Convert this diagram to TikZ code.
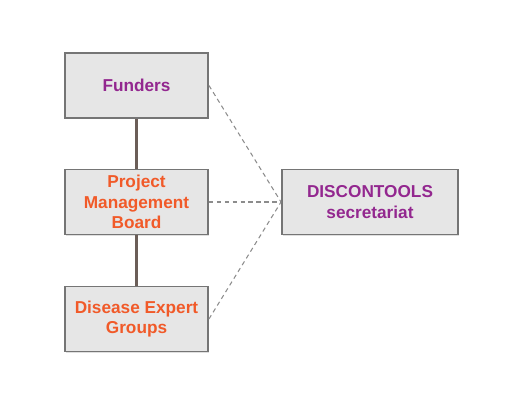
\documentclass[tikz,border=0pt]{standalone}
\usepackage{fontspec}
\setmainfont{Liberation Sans}
\definecolor{DTpurple}{HTML}{93278F}
\definecolor{DTorange}{HTML}{F15A29}
\definecolor{DTfill}{HTML}{E6E6E6}
\definecolor{DTedge}{HTML}{757575}
\definecolor{DTline}{HTML}{6B5E58}
\definecolor{DTdash}{HTML}{8C8C8C}
\usetikzlibrary{shadows}

\begin{document}
\begin{tikzpicture}[x=0.02cm, y=-0.02cm,
      box/.style={draw=DTedge, fill=DTfill, line width=1.1pt, align=center,
         minimum width=2.86cm, minimum height=1.3cm, inner sep=2pt,
         font=\fontsize{9.8}{11.8}\selectfont\bfseries,
         drop shadow={shadow xshift=0.6pt, shadow yshift=-0.6pt, fill=black!25}},
      link/.style={DTline, line width=1.2pt},
      dlink/.style={DTdash, line width=0.6pt, dash pattern=on 2.5pt off 2pt},
   ]
      \useasboundingbox (0,0) rectangle (518,405);

      % left column
      \node[box, text=DTpurple] (fund) at (136.5,85.5) {Funders};
      \node[box, text=DTorange] (pmb) at (136.5,202) {Project\\Management\\Board};
      \node[box, text=DTorange] (deg) at (136.5,319) {Disease Expert\\Groups};

      % secretariat
      \node[box, text=DTpurple, minimum width=3.52cm] (sec) at (370,202)
         {DISCONTOOLS\\secretariat};

      % solid links
      \draw[link] (fund) -- (pmb);
      \draw[link] (pmb) -- (deg);

      % dashed links
      \draw[dlink] (fund.east) -- (sec.west);
      \draw[dlink] (pmb.east) -- (sec.west);
      \draw[dlink] (deg.east) -- (sec.west);
   \end{tikzpicture}
\end{document}
